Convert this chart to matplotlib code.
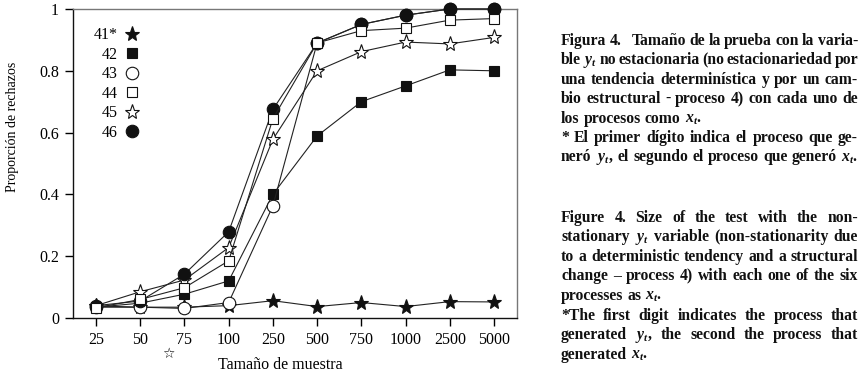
import re
import matplotlib
matplotlib.use("Agg")
import matplotlib.pyplot as plt
from matplotlib.lines import Line2D

plt.rcParams['font.family'] = ['Liberation Serif', 'DejaVu Serif']
plt.rcParams['mathtext.fontset'] = 'custom'
plt.rcParams['mathtext.rm'] = 'Liberation Serif'
plt.rcParams['mathtext.it'] = 'Liberation Serif:italic:bold'
plt.rcParams['mathtext.bf'] = 'Liberation Serif:bold'

# ---- data ----
sizes = ["25", "50", "75", "100", "250", "500", "750", "1000", "2500", "5000"]
s41 = [0.039, 0.035, 0.035, 0.040, 0.056, 0.037, 0.050, 0.037, 0.053, 0.052]
s42 = [0.035, 0.048, 0.077, 0.120, 0.400, 0.589, 0.700, 0.751, 0.803, 0.800]
s43 = [0.035, 0.035, 0.031, 0.050, 0.363, 0.890, 0.950, 0.980, 1.000, 1.000]
s44 = [0.033, 0.060, 0.098, 0.185, 0.645, 0.890, 0.930, 0.938, 0.964, 0.969]
s45 = [0.040, 0.085, 0.123, 0.228, 0.578, 0.800, 0.862, 0.893, 0.887, 0.908]
s46 = [0.040, 0.055, 0.142, 0.279, 0.675, 0.890, 0.950, 0.980, 1.000, 1.000]
labels = ["41*", "42", "43", "44", "45", "46"]
yticks = [0, 0.2, 0.4, 0.6, 0.8, 1]
ytick_labels = ["0", "0.2", "0.4", "0.6", "0.8", "1"]

caption_es = [
    "Figura 4.   Tamaño de la prueba con la varia-",
    "ble $y_t$ no estacionaria (no estacionariedad por",
    "una tendencia determinística y por un cam-",
    "bio estructural - proceso 4) con cada uno de",
    "los procesos como $x_t$.",
    "* El primer dígito indica el proceso que ge-",
    "neró $y_t$, el segundo el proceso que generó $x_t$.",
]
justify_es = [True, True, True, True, False, True, True]
caption_en = [
    "Figure 4. Size of the test with the non-",
    "stationary $y_t$ variable (non-stationarity due",
    "to a deterministic tendency and a structural",
    "change – process 4) with each one of the six",
    "processes as $x_t$.",
    "*The first digit indicates the process that",
    "generated $y_t$, the second the process that",
    "generated $x_t$.",
]
justify_en = [True, True, True, True, False, True, True, False]

W, H = 863, 371
fig = plt.figure(figsize=(W / 100, H / 100), dpi=100)
ax = fig.add_axes([73 / W, 1 - 318 / H, 444 / W, 309 / H])

styles = [
    dict(marker='*', mfc='#111111', mec='#111111', ms=11, z=3),
    dict(marker='s', mfc='#111111', mec='#111111', ms=6.5, z=3),
    dict(marker='o', mfc='white', mec='#111111', ms=9, z=3),
    dict(marker='s', mfc='white', mec='#111111', ms=6.5, z=6),
    dict(marker='*', mfc='white', mec='#111111', ms=11, z=4),
    dict(marker='o', mfc='#111111', mec='#111111', ms=9, z=5),
]
series = [s41, s42, s43, s44, s45, s46]
x = list(range(len(sizes)))
handles = []
for ys, st, lab in zip(series, styles, labels):
    ax.plot(x, ys, color='#222222', lw=0.8, marker=st['marker'],
            mfc=st['mfc'], mec=st['mec'], ms=st['ms'], mew=0.8,
            zorder=st['z'], clip_on=False)
    handles.append(Line2D([], [], linestyle='None', marker=st['marker'],
                          mfc=st['mfc'], mec=st['mec'], ms=st['ms'], mew=0.8,
                          label=lab))

ax.set_xlim(-0.52, 9.52)
ax.set_ylim(0, 1)
ax.set_xticks(x)
ax.set_xticklabels(sizes)
ax.set_yticks(yticks)
ax.set_yticklabels(ytick_labels)
ax.tick_params(direction='out', length=6, width=1, labelsize=11.5,
               top=False, right=False, pad=4)
for sp in ['top', 'right']:
    ax.spines[sp].set_color('#777777')
for sp in ['left', 'bottom']:
    ax.spines[sp].set_color('#111111')
for sp in ax.spines.values():
    sp.set_linewidth(1)

ax.set_ylabel("Proporción de rechazos", fontsize=10)
ax.set_xlabel("Tamaño de muestra", fontsize=11.5)
ax.xaxis.set_label_coords(0.466, -0.125)
ax.yaxis.set_label_coords(-0.122, 0.62)

leg = ax.legend(handles=handles, loc='upper left',
                bbox_to_anchor=(14 / 444, 1 - 12 / 309), frameon=False,
                markerfirst=False, fontsize=11.5, handlelength=1.0,
                handletextpad=0.4, labelspacing=0.22, borderaxespad=0)

# stray glyph below axis in the reference
fig.text(168 / W, 1 - 354 / H, "☆", fontsize=10, ha='center', va='center',
         family=['DejaVu Sans'])

# ---- justified captions ----
fig.canvas.draw()
renderer = fig.canvas.get_renderer()
FS = 11.3


def draw_line(line, x0, x1, ybase, justify):
    parts = re.split(r'( +)', line)
    words = parts[0::2]
    gaps = [len(g) for g in parts[1::2]]
    texts = []
    widths = []
    for w in words:
        t = fig.text(0, 0, w, fontsize=FS, fontweight='bold', va='baseline',
                     ha='left', color='#111111')
        widths.append(t.get_window_extent(renderer).width)
        texts.append(t)
    total = sum(widths)
    sp = fig.text(0, 0, "a a", fontsize=FS, fontweight='bold')
    sp2 = fig.text(0, 0, "aa", fontsize=FS, fontweight='bold')
    natural = sp.get_window_extent(renderer).width - sp2.get_window_extent(renderer).width
    sp.remove()
    sp2.remove()
    if justify and len(words) > 1:
        unit = (x1 - x0 - total) / sum(gaps)
    else:
        unit = natural
    if unit < 0.5 * natural:
        # too long: shrink the words slightly
        scale = (x1 - x0 - 0.6 * natural * sum(gaps)) / total
        for t in texts:
            t.set_fontsize(FS * scale)
        widths = [wd * scale for wd in widths]
        unit = (x1 - x0 - sum(widths)) / sum(gaps)
    xp = x0
    for i, (t, wd) in enumerate(zip(texts, widths)):
        t.set_position((xp / W, 1 - ybase / H))
        xp += wd
        if i < len(gaps):
            xp += unit * gaps[i]


for i, (line, j) in enumerate(zip(caption_es, justify_es)):
    draw_line(line, 561, 858, 45 + 19.4 * i, j)
for i, (line, j) in enumerate(zip(caption_en, justify_en)):
    draw_line(line, 561, 858, 221.5 + 19.6 * i, j)

fig.savefig("out.png", dpi=100)
